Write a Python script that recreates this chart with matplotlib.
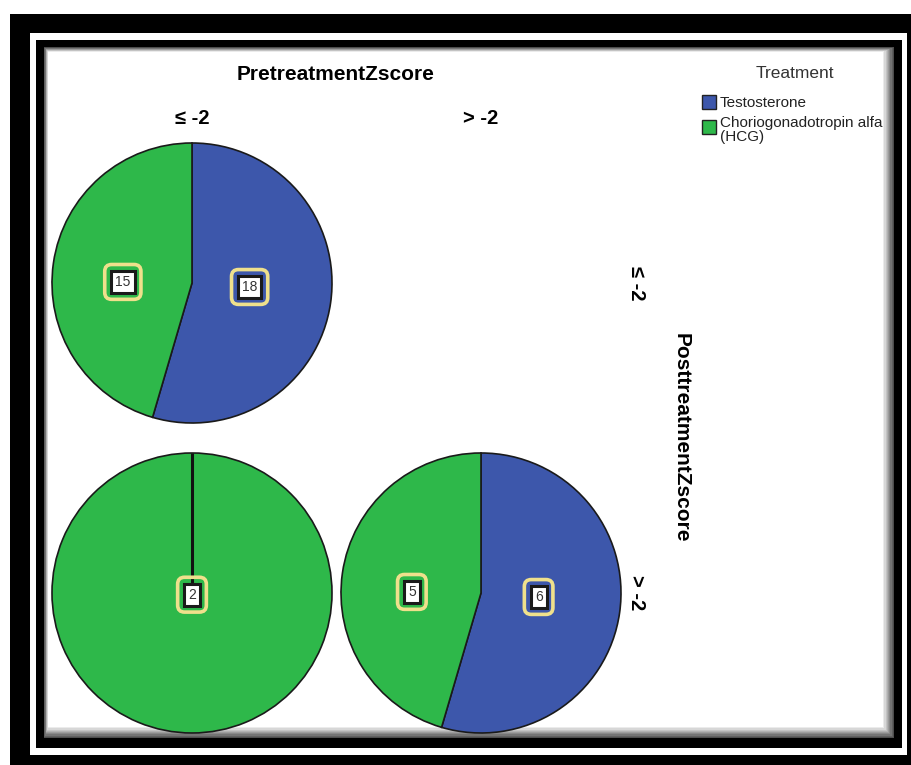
# panel of pies: Treatment by Pretreatment / Posttreatment Zscore
import numpy as np
import matplotlib.pyplot as plt
from matplotlib.patches import Rectangle

plt.rcParams['font.family'] = ['Liberation Sans', 'DejaVu Sans']

# data
pre_levels = ['≤ -2', '> -2']
post_levels = ['≤ -2', '> -2']
treatments = ['Testosterone', 'Choriogonadotropin alfa\n(HCG)']
colors = ['#3D57AB', '#2EB84A']

# counts[post][pre]
testosterone = [[18, 0], [0, 6]]
hcg = [[15, 0], [2, 5]]

W, H = 912, 765
fig = plt.figure(figsize=(W / 100, H / 100), dpi=100)


def px_rect(x0, y0, x1, y1, color):
    fig.patches.append(Rectangle((x0 / W, 1 - y1 / H), (x1 - x0) / W, (y1 - y0) / H,
                                 transform=fig.transFigure, fc=color, ec='none', zorder=-10))


# double black frame
px_rect(10, 14, 912, 765, 'black')
px_rect(30, 33, 907, 755, 'white')
px_rect(36, 40, 902, 748, 'black')
# soft inner shadow
for k, g in enumerate(np.linspace(0.3, 1.0, 10)):
    px_rect(44 + k * 0.5, 47 + k * 0.5, 894 - k * 1.2, 738 - k * 1.2, str(g))

# cell layout (pixels)
cell_x = [192, 481]
cell_y = [283, 593]
r = 140

for i in range(len(post_levels)):
    for j in range(len(pre_levels)):
        vals = [testosterone[i][j], hcg[i][j]]
        if sum(vals) == 0:
            continue
        ax = fig.add_axes([(cell_x[j] - r) / W, 1 - (cell_y[i] + r) / H, 2 * r / W, 2 * r / H])
        wedges, _ = ax.pie(vals, colors=colors, startangle=90, counterclock=False,
                           wedgeprops=dict(edgecolor='#1a1a1a', linewidth=1.2))
        for w in wedges:
            w.set_clip_on(False)
        ax.set_xlim(-1, 1)
        ax.set_ylim(-1, 1)
        ax.axis('off')
        for w, v in zip(wedges, vals):
            if v == 0:
                # empty category still shows its slice edge
                t = np.radians(w.theta1)
                ax.plot([0, np.cos(t)], [0, np.sin(t)], color='#111111', lw=2.2,
                        solid_capstyle='butt', zorder=3)
                continue
            # count label near wedge centroid
            a = np.radians((w.theta2 - w.theta1) / 2)
            d = 2 * np.sin(a) / (3 * a)
            m = np.radians((w.theta1 + w.theta2) / 2)
            x, y = d * np.cos(m) * 1.08, d * np.sin(m) * 0.3 - 0.012
            ax.text(x, y, str(v), ha='center', va='center', fontsize=10, color='none', zorder=5,
                    bbox=dict(boxstyle='round,pad=0.75,rounding_size=0.5', fc='none',
                              ec='#EFE08C', lw=2.6))
            ax.text(x, y, str(v), ha='center', va='center', fontsize=10, color='#333333', zorder=6,
                    bbox=dict(boxstyle='square,pad=0.3', fc='white', ec='#1a1a1a', lw=2.2))

# facet titles
fig.text(336 / W, 1 - 75 / H, 'PretreatmentZscore', ha='center', va='center',
         fontsize=15, fontweight='bold')
for j, lev in enumerate(pre_levels):
    fig.text(cell_x[j] / W, 1 - 118 / H, lev, ha='center', va='center',
             fontsize=14.5, fontweight='bold')
for i, lev in enumerate(post_levels):
    fig.text(637 / W, 1 - cell_y[i] / H, lev, ha='center', va='center', rotation=-90,
             fontsize=14.5, fontweight='bold')
fig.text(681 / W, 1 - 438 / H, 'PosttreatmentZscore', ha='center', va='center', rotation=-90,
         fontsize=15, fontweight='bold')

# legend
fig.text(795 / W, 1 - 73 / H, 'Treatment', ha='center', va='center', fontsize=12.5, color='#333333')
leg_y = [102, 127]
text_y = [103, 130]
for name, c, sy, ty in zip(treatments, colors, leg_y, text_y):
    fig.patches.append(Rectangle((702 / W, 1 - (sy + 7) / H), 14 / W, 14 / H,
                                 transform=fig.transFigure, fc=c, ec='#222222', lw=1))
    fig.text(720 / W, 1 - ty / H, name, ha='left', va='center', fontsize=11,
             color='#222222', linespacing=1.0)

fig.savefig('out.png', dpi=100)
